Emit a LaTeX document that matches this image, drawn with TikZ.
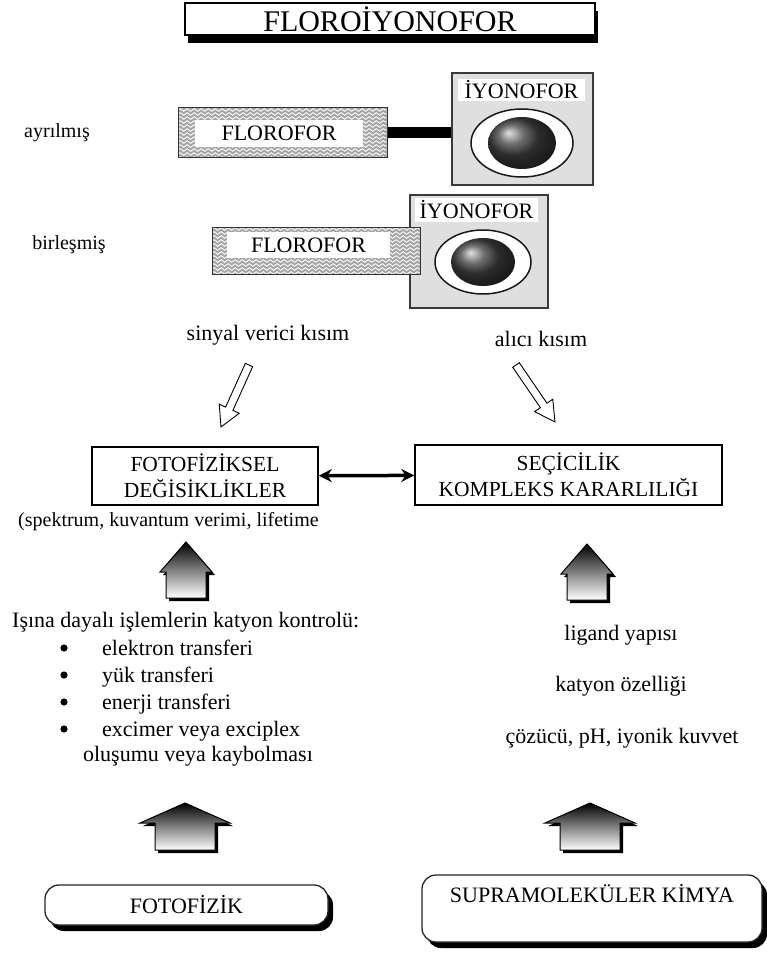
\documentclass[tikz,border=0pt]{standalone}
\usepackage{fontspec}
\setmainfont{Liberation Serif}
\usetikzlibrary{arrows.meta,shadows,decorations.pathmorphing,positioning}

\tikzset{
  every node/.style={inner sep=0pt},
  small/.style={font=\fontsize{20}{24}\selectfont},
  txt/.style={font=\fontsize{22}{26}\selectfont},
  titlebox/.style={draw, line width=1.2pt, fill=white, minimum width=410pt, minimum height=32pt,
    drop shadow={shadow xshift=3pt, shadow yshift=-8pt, fill=black, opacity=1},
    font=\fontsize{30}{34}\selectfont},
  wavybox/.style={draw=gray!40!black, fill=gray!70, line width=1pt, path picture={
    \foreach \k in {0,...,13}
      \draw[white, line width=0.9pt, decorate, decoration={snake, amplitude=1.3pt, segment length=7pt}]
        ([yshift=-2pt-\k*4pt]path picture bounding box.north west) -- ([yshift=-2pt-\k*4pt]path picture bounding box.north east);
  }},
  iyobox/.style={draw=gray!45!black, fill=gray!25, line width=1.2pt},
  tag/.style={fill=white, font=\fontsize{22}{26}\selectfont},
  ring/.style={draw=gray!20!black, line width=1.5pt, fill=white},
  mbox/.style={draw, line width=1.5pt, align=center, font=\fontsize{21.5}{26}\selectfont},
  rbox/.style={draw=gray!30!black, line width=1.3pt, fill=white, rounded corners=14pt, align=center,
    drop shadow={shadow xshift=5pt, shadow yshift=-6pt, fill=black, opacity=1},
    font=\fontsize{22}{26}\selectfont},
  dbl/.style={line width=3.5pt, {Stealth[length=13pt,width=13pt]}-{Stealth[length=13pt,width=13pt]}},
  pics/hollow/.style={code={
    \draw[line width=0.9pt, fill=white] (0,-4) -- (#1-20,-4) -- (#1-20,-11) -- (#1,0)
      -- (#1-20,11) -- (#1-20,4) -- (0,4) -- cycle;
  }},
  pics/blockup/.style n args={4}{code={
    \fill[black, shift={(3,3)}] (0,0) -- (#1,#3) -- (#2,#3) -- (#2,#4) -- (-#2,#4) -- (-#2,#3) -- (-#1,#3) -- cycle;
    \draw[line width=1pt, top color=black, bottom color=white]
      (0,0) -- (#1,#3) -- (#2,#3) -- (#2,#4) -- (-#2,#4) -- (-#2,#3) -- (-#1,#3) -- cycle;
  }}
}

\begin{document}
\begin{tikzpicture}[x=1pt,y=-1pt]
\useasboundingbox (0,0) rectangle (767,955);

% title
\node[titlebox] (title) at (390,19) {FLOROİYONOFOR};

% separated
\node[small] (ayr) at (57,133) {ayrılmış};
\node[wavybox, minimum width=209pt, minimum height=49pt] (flbox1) at (282.5,132.5) {};
\node[tag, minimum width=168pt, minimum height=27pt] (flo1) at (279,133.5) {FLOROFOR};
\node[iyobox, minimum width=141pt, minimum height=112pt] (iyo1) at (522.5,129) {};
\node[tag, minimum width=127pt, minimum height=22pt] (itag1) at (521.5,90) {İYONOFOR};
\draw[ring] (522,143) ellipse [x radius=51, y radius=34];
\shade[ball color=black!75] (522,143) ellipse [x radius=34, y radius=26];
\draw[line width=10pt] (flbox1.east) -- (iyo1.west |- flbox1.east);

% joined
\node[small] (bir) at (69,245) {birleşmiş};
\node[iyobox, minimum width=138pt, minimum height=113pt] (iyo2) at (479,251.5) {};
\node[tag, minimum width=123pt, minimum height=24pt] (itag2) at (476.5,210) {İYONOFOR};
\draw[ring] (483,262) ellipse [x radius=48, y radius=32];
\shade[ball color=black!75] (483,262) ellipse [x radius=32, y radius=24];
\node[wavybox, minimum width=208pt, minimum height=47pt] (flbox2) at (316,250.5) {};
\node[tag, minimum width=163pt, minimum height=26pt] (flo2) at (308.5,245) {FLOROFOR};

% parts
\node[txt] (sig) at (268,335) {sinyal verici kısım};
\node[txt] (rec) at (541,339) {alıcı kısım};
\coordinate (s1) at (249,365);
\coordinate (s2) at (516,365);
\pic[rotate=-114.3] at (s1) {hollow=68};
\pic[rotate=-55.6] at (s2) {hollow=69};

% boxes
\node[mbox, minimum width=226pt, minimum height=58pt] (foto) at (205,476) {FOTOFİZİKSEL\\DEĞİSİKLİKLER};
\node[mbox, minimum width=307pt, minimum height=60pt] (secici) at (568.5,475) {SEÇİCİLİK\\KOMPLEKS KARARLILIĞI};
\draw[dbl] (foto) -- (secici);
\node[small, anchor=west] (spek) at (18,522) {(spektrum, kuvantum verimi, lifetime};

\pic at (186,542) {blockup={26}{20}{30}{56}};
\pic at (587,544) {blockup={26}{20}{30}{56}};

% left list
\node[txt, anchor=west] (kontrol) at (12,622) {Işına dayalı işlemlerin katyon kontrolü:};
\foreach \t [count=\i] in {elektron transferi, yük transferi, enerji transferi, excimer veya exciplex}{
  \fill (64,621+27*\i) circle (3.6);
  \node[txt, anchor=base west] (item\i) at (102,628+27*\i) {\t};
}
\node[txt] (olus) at (198,756) {oluşumu veya kaybolması};

% right list
\node[txt] (lig) at (621,635) {ligand yapısı};
\node[txt] (kat) at (621,686) {katyon özelliği};
\node[txt] (coz) at (622,738) {çözücü, pH, iyonik kuvvet};

\pic at (185,803) {blockup={45}{30}{20}{47}};
\pic at (590,803) {blockup={45}{30}{20}{47}};

% bottom
\node[rbox, minimum width=283pt, minimum height=40pt] (fiz) at (186.5,905) {FOTOFİZİK};
\node[rbox, minimum width=340pt, text height=16pt, text depth=28pt, inner ysep=11.5pt] (supra) at (592,908.5) {SUPRAMOLEKÜLER KİMYA};
\end{tikzpicture}
\end{document}
